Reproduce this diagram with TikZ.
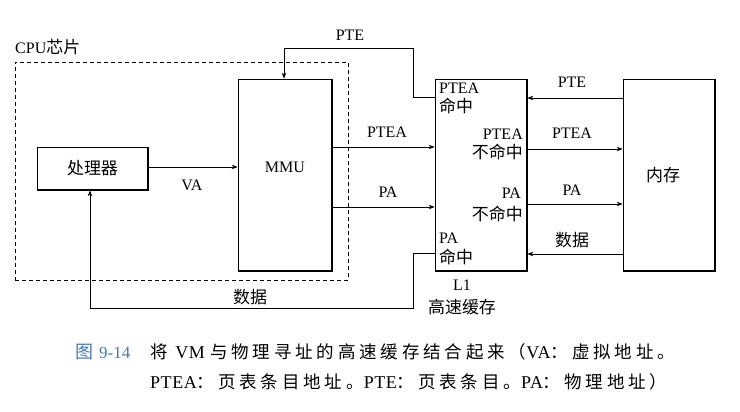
\documentclass[tikz,border=0pt]{standalone}
\usepackage{fontspec}
\setmainfont{Liberation Serif}
\newfontfamily\cjk[Scale=1.06]{Noto Sans CJK SC}
\newfontfamily\cjkls[LetterSpace=22]{Noto Sans CJK SC}
\newfontfamily\rmls[LetterSpace=3]{Liberation Serif}
\usetikzlibrary{arrows.meta}
\newcommand\zh[1]{{\cjk #1}}
\newcommand\cz{\fontsize{17.5}{18}\cjkls}
\newcommand\cl{\fontsize{18}{18}\rmls}
\definecolor{capblue}{RGB}{70,120,185}
\begin{document}
\begin{tikzpicture}[x=1pt,y=-1pt,
  box/.style={draw, line width=0.7pt, inner sep=0pt},
  shadowline/.style={line width=1.8pt, line cap=rect},
  conn/.style={line width=0.7pt, -{Stealth[length=6pt,width=4.5pt]}},
  lbl/.style={inner sep=0pt, font=\fontsize{16}{18}\selectfont},
  captxt/.style={inner sep=0pt, anchor=west, font=\fontsize{17}{18}\selectfont}]
\useasboundingbox[fill=white] (0,0) rectangle (740,412);

% CPU chip dashed frame
\node[draw, dashed, dash pattern=on 4pt off 3pt, line width=0.7pt, inner sep=0pt,
  minimum width=333pt, minimum height=218pt] (cpu) at (181.5,171) {};
\node[lbl, anchor=west] (cpulbl) at (15,47) {CPU\zh{芯片}};

% boxes
\node[box, minimum width=111pt, minimum height=43pt] (proc) at (92.5,168.5) {};
\node[lbl] (proct) at (92.5,168) {\zh{处理器}};
\node[box, minimum width=94pt, minimum height=192pt] (mmu) at (285,175) {};
\node[lbl] (mmut) at (285,167) {MMU};
\node[box, minimum width=92pt, minimum height=192pt] (l1) at (481,175) {};
\node[box, minimum width=92pt, minimum height=192pt] (mem) at (669,175) {};
\node[lbl] (memt) at (663,175) {\zh{内存}};
\foreach \b in {proc,mmu,l1,mem}
  \draw[shadowline] ([yshift=-1pt]\b.north east) -- (\b.south east) -- ([xshift=1pt]\b.south west);

% L1 internal labels
\node[lbl, anchor=west] (h1a) at (439,88) {PTEA};
\node[lbl, anchor=west] (h1b) at (439,106) {\zh{命中}};
\node[lbl, anchor=east] (m1a) at (523,134) {PTEA};
\node[lbl, anchor=east] (m1b) at (523,152) {\zh{不命中}};
\node[lbl, anchor=east] (m2a) at (521,193) {PA};
\node[lbl, anchor=east] (m2b) at (523,214) {\zh{不命中}};
\node[lbl, anchor=west] (h2a) at (439,238) {PA};
\node[lbl, anchor=west] (h2b) at (439,257) {\zh{命中}};
\node[lbl] (l1a) at (462,285) {L1};
\node[lbl] (l1b) at (462,307) {\zh{高速缓存}};

% corner coordinates
\coordinate (p1) at (413,97);
\coordinate (p2) at (413,48);
\coordinate (p3) at (284,48);
\coordinate (d1) at (413,253);
\coordinate (d2) at (413,308);
\coordinate (d3) at (90,308);

% connectors
\draw[conn] (proc.east |- 0,167) -- (mmu.west |- 0,167);
\node[lbl] (va) at (192,185) {VA};
\draw[conn] (l1.west |- p1) -- (p1) -- (p2) -- (p3) -- (p3 |- mmu.north);
\node[lbl] (pte1) at (350,35) {PTE};
\draw[conn] (mmu.east |- 0,147) -- (l1.west |- 0,147);
\node[lbl] (ptea1) at (387,132) {PTEA};
\draw[conn] (mmu.east |- 0,207) -- (l1.west |- 0,207);
\node[lbl] (pa1) at (388,192) {PA};

\draw[conn] (mem.west |- 0,98) -- (l1.east |- 0,98);
\node[lbl] (pte2) at (572,82) {PTE};
\draw[conn] (l1.east |- 0,149) -- (mem.west |- 0,149);
\node[lbl] (ptea2) at (572,133) {PTEA};
\draw[conn] (l1.east |- 0,204) -- (mem.west |- 0,204);
\node[lbl] (pa2) at (572,190) {PA};
\draw[conn] (mem.west |- 0,254) -- (l1.east |- 0,254);
\node[lbl] (data2) at (572,240) {\zh{数据}};

\draw[conn] (l1.west |- d1) -- (d1) -- (d2) -- (d3) -- (d3 |- proc.south);
\node[lbl] (data1) at (250,297) {\zh{数据}};

% caption
\node[captxt, text=capblue] (capno) at (75,352) {\zh{图}\hspace{6pt}9-14};
\node[captxt] (cap1) at (150,352) {\cz 将 \cl VM \cz 与物理寻址的高速缓存结合起来（\cl VA\cz ：虚拟地址。};
\node[captxt] (cap2) at (150,382) {\cl PTEA\cz ：页表条目地址。\cl PTE\cz ：页表条目。\cl PA\cz ：物理地址）};
\end{tikzpicture}
\end{document}
